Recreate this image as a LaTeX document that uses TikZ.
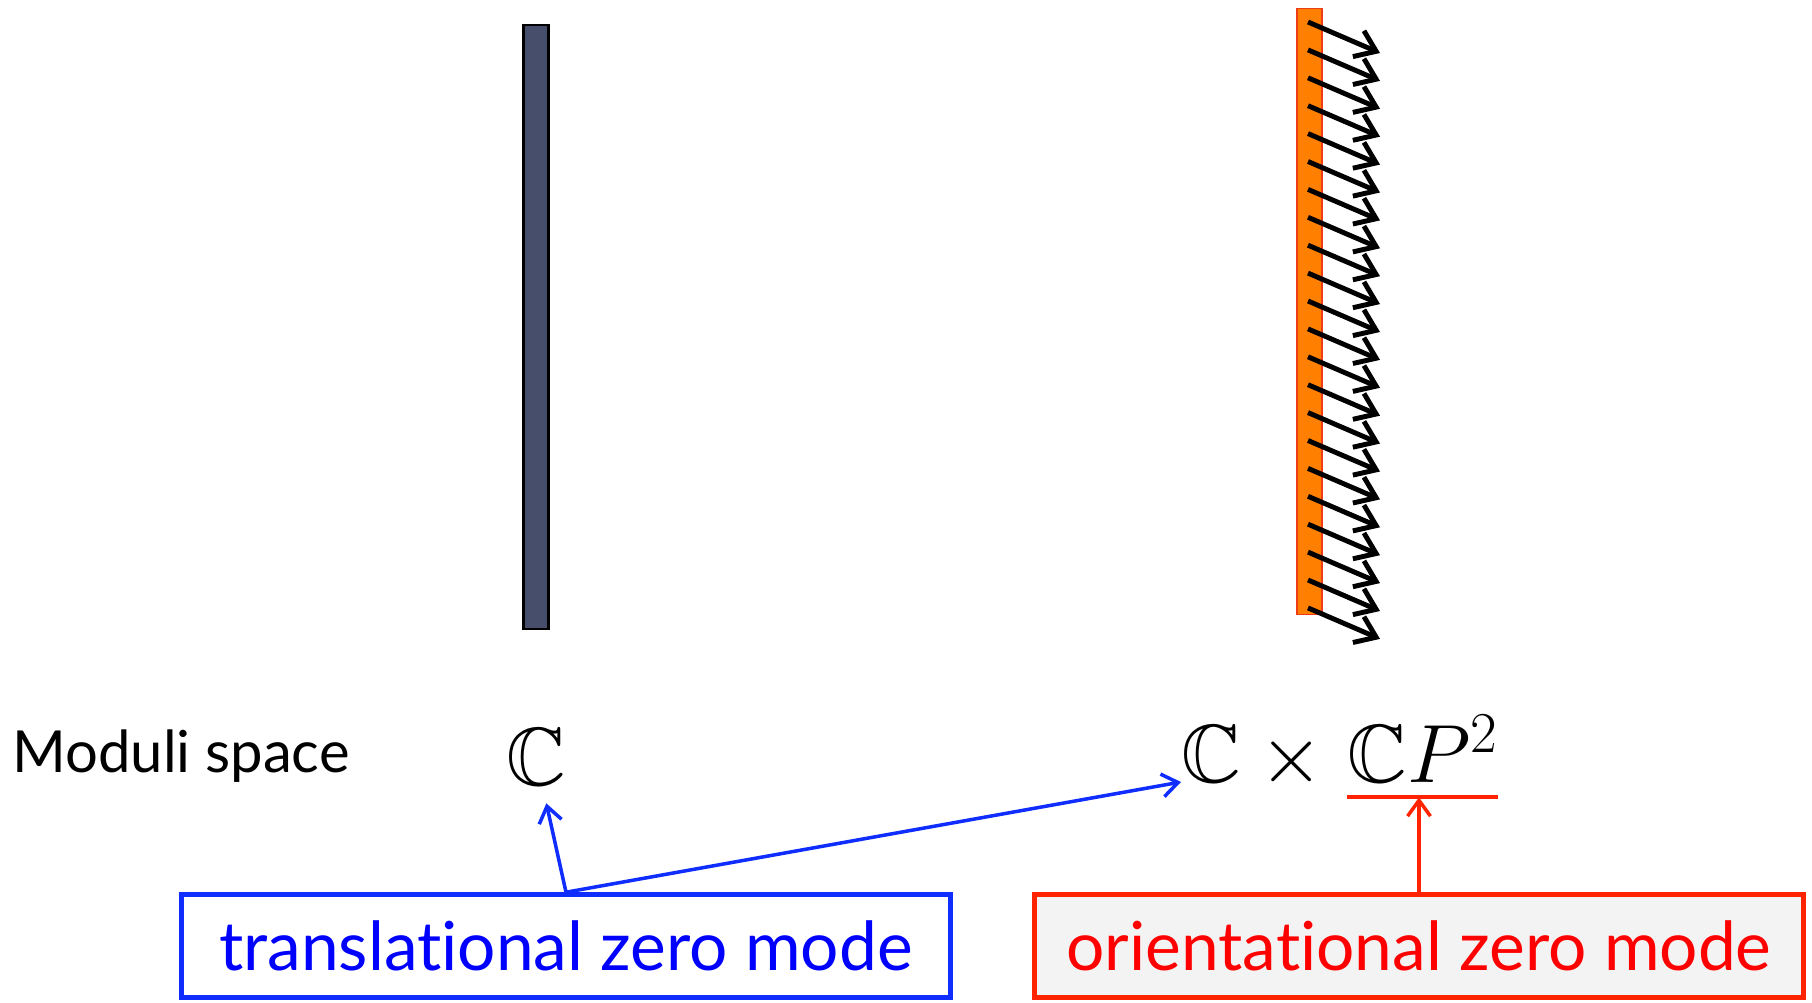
\RequirePackage{fix-cm}
\documentclass[tikz,border=0pt]{standalone}
\usepackage{fontspec}
\setmainfont{Lato}[Ligatures=NoCommon]
\usepackage{amssymb}
\usetikzlibrary{arrows.meta}
\definecolor{slate}{RGB}{71,78,107}
\definecolor{wallorange}{RGB}{255,128,0}
\definecolor{wallred}{RGB}{240,60,20}
\definecolor{modeblue}{RGB}{0,0,255}
\definecolor{linkblue}{RGB}{15,45,255}
\definecolor{modered}{RGB}{255,0,0}
\definecolor{linkred}{RGB}{255,35,0}
\definecolor{boxgray}{RGB}{243,243,243}

\begin{document}
\begin{tikzpicture}[x=0.02cm, y=-0.02cm,
    modebox/.style={draw, line width=2.6pt, minimum width=15.38cm, minimum height=2.06cm, font=\fontsize{38.5}{46}\selectfont},
    moduli/.style={font=\fontsize{47}{56}\selectfont},
    spin/.style={line width=2.8pt, -{Straight Barb[length=11pt,width=16pt]}},
    link/.style={line width=2pt, -{Straight Barb[length=9pt,width=13pt]}}]
    \useasboundingbox (0,0) rectangle (1812,1003);

    % Walls
    \node[draw=black, line width=1.2pt, fill=slate, minimum width=0.5cm, minimum height=12.1cm, inner sep=0] (wall) at (536,327) {};
    \node[draw=wallred, line width=0.6pt, fill=wallorange, minimum width=0.5cm, minimum height=12.14cm, inner sep=0] (nawall) at (1309.5,311.5) {};
    \foreach \i in {0,...,21}
        \draw[spin] (1308,22+27.9*\i) -- ++(72,31);

    % Moduli space
    \node[anchor=base west, font=\fontsize{33}{40}\selectfont, inner sep=0] (label) at (12,772) {Moduli space};
    \node[moduli, anchor=base, inner sep=0.36cm] (cleft) at (536,785) {$\mathbb{C}$};
    \node[moduli, anchor=base west, inner sep=0] (prod) at (1181,782) {$\mathbb{C}\mathbin{\times}{}$};
    \node[moduli, anchor=base west, inner xsep=0pt, inner ysep=0.3cm] (cp) at (1347,782) {$\mathbb{C}P^2$};
    \draw[linkred, line width=2.2pt] (cp.south west) -- (cp.south east);

    % Zero modes
    \node[modebox, draw=linkblue, text=modeblue] (trans) at (566,946) {translational zero mode};
    \node[modebox, draw=linkred, fill=boxgray, text=modered] (orient) at (1419,946) {orientational zero mode};

    % Arrows
    \draw[link, linkblue] (trans.north) -- (cleft);
    \draw[link, linkblue] (trans.north) -- (prod.base west);
    \draw[link, linkred] (orient.north) -- (orient.north |- cp.south);
\end{tikzpicture}
\end{document}
